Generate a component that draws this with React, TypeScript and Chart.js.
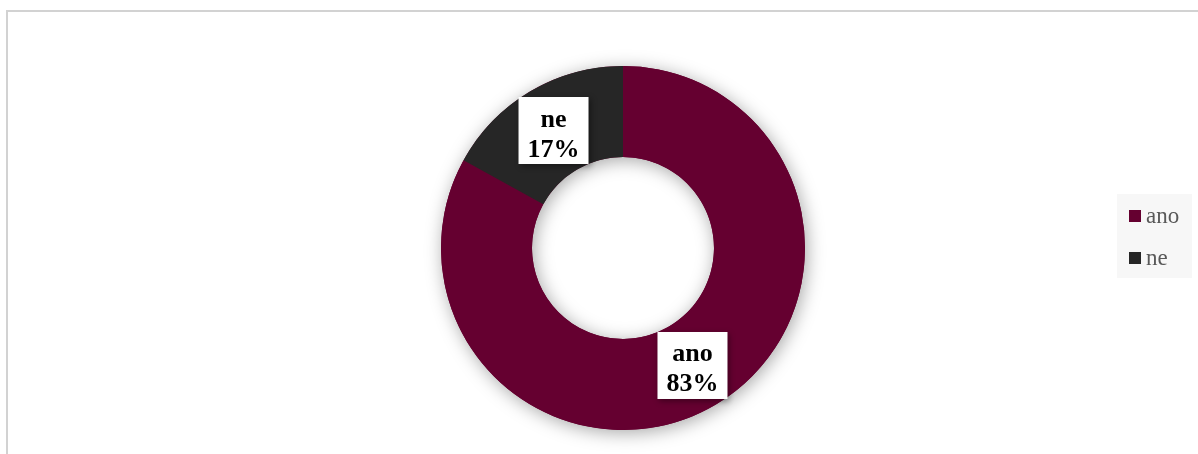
import React, { useEffect, useRef } from "react";
import { Chart, registerables } from "chart.js";

Chart.register(...registerables);

const categories = ["ano", "ne"];
const values = [83, 17];
const colors = ["#650030", "#262626"];

const FONT = '"Liberation Serif", "Times New Roman", serif';

const ringShadow = {
  id: "ringShadow",
  beforeDatasetsDraw(chart: any) {
    const meta = chart.getDatasetMeta(0);
    const a = meta.data[0];
    if (!a) return;
    const { x, y, outerRadius, innerRadius } = a.getProps(["x", "y", "outerRadius", "innerRadius"], true);
    const ctx = chart.ctx;
    ctx.save();
    ctx.shadowColor = "rgba(0,0,0,0.35)";
    ctx.shadowBlur = 18;
    ctx.shadowOffsetX = 2;
    ctx.shadowOffsetY = 3;
    ctx.beginPath();
    ctx.arc(x, y, outerRadius, 0, Math.PI * 2);
    ctx.moveTo(x + innerRadius, y);
    ctx.arc(x, y, innerRadius, 0, Math.PI * 2, true);
    ctx.fillStyle = colors[0];
    ctx.fill("evenodd");
    ctx.restore();
  },
  afterDatasetsDraw(chart: any) {
    const ctx = chart.ctx;
    const meta = chart.getDatasetMeta(0);
    const total = values.reduce((s, v) => s + v, 0);
    meta.data.forEach((arc: any, i: number) => {
      const p = arc.tooltipPosition(true);
      const w = 70, h = 67;
      ctx.save();
      ctx.shadowColor = "rgba(0,0,0,0.4)";
      ctx.shadowBlur = 6;
      ctx.shadowOffsetX = 2;
      ctx.shadowOffsetY = 2;
      ctx.fillStyle = "#ffffff";
      ctx.fillRect(p.x - w / 2, p.y - h / 2, w, h);
      ctx.restore();
      ctx.save();
      ctx.fillStyle = "#000000";
      ctx.font = `bold 26px ${FONT}`;
      ctx.textAlign = "center";
      ctx.textBaseline = "alphabetic";
      ctx.fillText(categories[i], p.x, p.y - 4);
      ctx.fillText(Math.round((values[i] / total) * 100) + "%", p.x, p.y + 26);
      ctx.restore();
    });
    // legend
    ctx.save();
    ctx.fillStyle = "#f7f7f7";
    ctx.fillRect(1117, 194, 75, 84);
    ctx.font = `23px ${FONT}`;
    ctx.textAlign = "left";
    ctx.textBaseline = "alphabetic";
    categories.forEach((c, i) => {
      const yy = 210 + i * 42;
      ctx.fillStyle = colors[i];
      ctx.fillRect(1129, yy, 12, 12);
      ctx.fillStyle = "#595959";
      ctx.fillText(c, 1146, yy + 13);
    });
    ctx.restore();
  },
};

export default function App() {
  const ref = useRef<HTMLCanvasElement>(null);
  useEffect(() => {
    if (!ref.current) return;
    const chart = new Chart(ref.current, {
      type: "doughnut",
      data: {
        labels: categories,
        datasets: [
          {
            data: values,
            backgroundColor: colors,
            borderWidth: 0,
            hoverOffset: 0,
          },
        ],
      },
      options: {
        animation: false,
        responsive: false,
        devicePixelRatio: 1,
        cutout: "50%",
        layout: { padding: { left: 441, right: 393, top: 66, bottom: 24 } },
        plugins: { legend: { display: false }, tooltip: { enabled: false } },
        events: [],
      },
      plugins: [ringShadow],
    } as any);
    return () => chart.destroy();
  }, []);
  return (
    <div style={{ position: "fixed", left: 0, top: 0, width: 1198, height: 454, background: "#fff", overflow: "hidden" }}>
      <div
        style={{
          position: "absolute",
          left: 6,
          top: 10,
          width: 1300,
          height: 600,
          borderTop: "2px solid #d2d2d2",
          borderLeft: "2px solid #d2d2d2",
        }}
      />
      <canvas ref={ref} width={1198} height={454} style={{ position: "absolute", left: 0, top: 0 }} />
    </div>
  );
}
